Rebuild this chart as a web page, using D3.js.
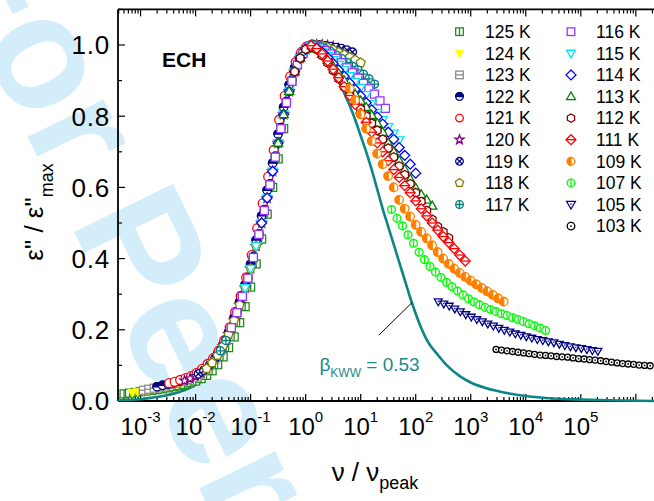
<!DOCTYPE html>
<html><head><meta charset="utf-8">
<script src="https://cdn.jsdelivr.net/npm/d3@7"></script>
<style>body{margin:0;background:#fff}svg{display:block}text{font-family:"Liberation Sans",Arial,Helvetica,sans-serif}</style>
</head><body><svg id="c" width="654" height="501"></svg>
<script>
// ---------- data (x = log10(nu/nu_peak), y = eps''/eps''max) ----------
const xTickExps = [-3,-2,-1,0,1,2,3,4,5];
const yTickVals = [0.0,0.2,0.4,0.6,0.8,1.0];
const seriesLabels = ["125 K","124 K","123 K","122 K","121 K","120 K","119 K","118 K","117 K",
                      "116 K","115 K","114 K","113 K","112 K","111 K","109 K","107 K","105 K","103 K"];
const seriesColors = ["#1e8c1e","#ffff00","#8c8c8c","#000080","#ff0000","#800080","#000080","#808000","#008080",
                      "#9933ff","#00e6f0","#0000ff","#008000","#800000","#ff0000","#ff8000","#00ff00","#000080","#000000"];
const seriesMarkers = ["sqV","triDF","sqH","cHalf","circ","star","cX","pent","cPlus",
                       "sq","triD","diam","triU","hex","diamH","cHalfL","cV","triDdot","cDot"];

const s125 = [[-3.3,0.020],[-3.2,0.022],[-3.1,0.024],[-3.0,0.026],[-2.9,0.028],[-2.8,0.030],[-2.7,0.032],[-2.6,0.034],[-2.5,0.037],[-2.4,0.040],[-2.3,0.043],[-2.2,0.047],[-2.1,0.051],[-2.0,0.056],[-1.9,0.063],[-1.8,0.072],[-1.7,0.085],[-1.6,0.102],[-1.5,0.124],[-1.4,0.150],[-1.3,0.180],[-1.2,0.220],[-1.1,0.265],[-1.0,0.320],[-0.9,0.385],[-0.8,0.455],[-0.7,0.525],[-0.6,0.600],[-0.5,0.680],[-0.4,0.765]];
const s124 = [[-3.15,0.024],[-3.05,0.026],[-2.95,0.029],[-2.85,0.031],[-2.75,0.034],[-2.65,0.037],[-2.55,0.040],[-2.45,0.044],[-2.35,0.048],[-2.25,0.052],[-2.15,0.057],[-2.05,0.063],[-1.95,0.071],[-1.85,0.081],[-1.75,0.094],[-1.65,0.112],[-1.55,0.135],[-1.45,0.163],[-1.35,0.197],[-1.25,0.237],[-1.15,0.283],[-1.05,0.335],[-0.95,0.395],[-0.85,0.460],[-0.75,0.530],[-0.65,0.605],[-0.55,0.685],[-0.45,0.765],[-0.35,0.840],[-0.25,0.900]];
const s123 = [[-2.95,0.030],[-2.85,0.033],[-2.75,0.036],[-2.65,0.039],[-2.55,0.042],[-2.45,0.046],[-2.35,0.050],[-2.25,0.055],[-2.15,0.060],[-2.05,0.067],[-1.95,0.075],[-1.85,0.085],[-1.75,0.099],[-1.65,0.117],[-1.55,0.141],[-1.45,0.170],[-1.35,0.206],[-1.25,0.248],[-1.15,0.294],[-1.05,0.345],[-0.95,0.403],[-0.85,0.468],[-0.75,0.535],[-0.65,0.607],[-0.55,0.685],[-0.45,0.765],[-0.35,0.838],[-0.25,0.898],[-0.15,0.945],[-0.05,0.976]];
const s122 = [[-2.7,0.040],[-2.6,0.044],[-2.5,0.047],[-2.4,0.051],[-2.3,0.055],[-2.2,0.060],[-2.1,0.066],[-2.0,0.073],[-1.9,0.083],[-1.8,0.096],[-1.7,0.112],[-1.6,0.132],[-1.5,0.159],[-1.4,0.193],[-1.3,0.234],[-1.2,0.278],[-1.1,0.327],[-1.0,0.384],[-0.9,0.452],[-0.8,0.520],[-0.7,0.592],[-0.6,0.668],[-0.5,0.750],[-0.4,0.825],[-0.3,0.888],[-0.2,0.936],[-0.1,0.970],[0.0,0.992],[0.1,1.000]];
const s121 = [[-2.48,0.050],[-2.38,0.054],[-2.28,0.059],[-2.18,0.064],[-2.08,0.070],[-1.98,0.079],[-1.88,0.090],[-1.78,0.104],[-1.68,0.120],[-1.58,0.141],[-1.48,0.170],[-1.38,0.207],[-1.28,0.250],[-1.18,0.295],[-1.08,0.347],[-0.98,0.410],[-0.88,0.485],[-0.78,0.555],[-0.68,0.630],[-0.58,0.705],[-0.48,0.790],[-0.38,0.857],[-0.28,0.912],[-0.18,0.952],[-0.08,0.980],[0.02,0.996],[0.12,1.002],[0.22,1.000],[0.32,0.997]];
const s120 = [[-2.2,0.057],[-2.1,0.063],[-2.0,0.070],[-1.9,0.079],[-1.8,0.091],[-1.7,0.107],[-1.6,0.128],[-1.5,0.154],[-1.4,0.187],[-1.3,0.226],[-1.2,0.270],[-1.1,0.318],[-1.0,0.372],[-0.9,0.435],[-0.8,0.500],[-0.7,0.570],[-0.6,0.645],[-0.5,0.725],[-0.4,0.805],[-0.3,0.870],[-0.2,0.925],[-0.1,0.963],[0.0,0.988],[0.1,0.998],[0.2,1.000],[0.3,1.000],[0.4,0.998],[0.5,0.995],[0.6,0.990]];
const s119 = [[-1.95,0.076],[-1.85,0.086],[-1.75,0.100],[-1.65,0.119],[-1.55,0.143],[-1.45,0.172],[-1.35,0.208],[-1.25,0.250],[-1.15,0.296],[-1.05,0.347],[-0.95,0.406],[-0.85,0.470],[-0.75,0.538],[-0.65,0.610],[-0.55,0.688],[-0.45,0.768],[-0.35,0.842],[-0.25,0.902],[-0.15,0.948],[-0.05,0.978],[0.05,0.995],[0.15,1.000],[0.25,1.000],[0.35,0.998],[0.45,0.996],[0.55,0.993],[0.65,0.990],[0.75,0.986],[0.85,0.980]];
const s118 = [[-1.8,0.091],[-1.7,0.107],[-1.6,0.128],[-1.5,0.154],[-1.4,0.187],[-1.3,0.226],[-1.2,0.270],[-1.1,0.318],[-1.0,0.372],[-0.9,0.435],[-0.8,0.500],[-0.7,0.570],[-0.6,0.645],[-0.5,0.725],[-0.4,0.805],[-0.3,0.870],[-0.2,0.925],[-0.1,0.963],[0.0,0.988],[0.1,0.998],[0.2,1.000],[0.3,0.998],[0.4,0.993],[0.5,0.987],[0.6,0.980],[0.7,0.973],[0.8,0.966],[0.9,0.958],[1.0,0.950]];
const s117 = [[-1.55,0.141],[-1.45,0.170],[-1.35,0.206],[-1.25,0.248],[-1.15,0.294],[-1.05,0.345],[-0.95,0.403],[-0.85,0.468],[-0.75,0.535],[-0.65,0.607],[-0.55,0.685],[-0.45,0.765],[-0.35,0.838],[-0.25,0.898],[-0.15,0.945],[-0.05,0.976],[0.05,0.994],[0.15,1.000],[0.25,0.997],[0.35,0.990],[0.45,0.982],[0.55,0.972],[0.65,0.962],[0.75,0.951],[0.85,0.940],[0.95,0.930],[1.05,0.918],[1.15,0.905],[1.25,0.890]];
const s116 = [[-1.35,0.206],[-1.25,0.248],[-1.15,0.294],[-1.05,0.345],[-0.95,0.403],[-0.85,0.468],[-0.75,0.535],[-0.65,0.607],[-0.55,0.685],[-0.45,0.765],[-0.35,0.838],[-0.25,0.898],[-0.15,0.945],[-0.05,0.976],[0.05,0.994],[0.15,0.998],[0.25,0.993],[0.35,0.985],[0.45,0.975],[0.55,0.963],[0.65,0.950],[0.75,0.936],[0.85,0.922],[0.95,0.907],[1.05,0.892],[1.15,0.877],[1.25,0.862],[1.35,0.843],[1.45,0.822]];
const s115 = [[-1.1,0.318],[-1.0,0.372],[-0.9,0.435],[-0.8,0.500],[-0.7,0.570],[-0.6,0.645],[-0.5,0.725],[-0.4,0.805],[-0.3,0.870],[-0.2,0.925],[-0.1,0.963],[0.0,0.988],[0.1,0.997],[0.2,0.993],[0.3,0.982],[0.4,0.970],[0.5,0.958],[0.6,0.945],[0.7,0.930],[0.8,0.913],[0.9,0.897],[1.0,0.880],[1.1,0.860],[1.2,0.835],[1.3,0.810],[1.4,0.790],[1.5,0.770],[1.6,0.752],[1.7,0.733]];
const s114 = [[-0.8,0.500],[-0.7,0.570],[-0.6,0.645],[-0.5,0.725],[-0.4,0.805],[-0.3,0.870],[-0.2,0.925],[-0.1,0.963],[0.0,0.988],[0.1,0.996],[0.2,0.992],[0.3,0.980],[0.4,0.965],[0.5,0.948],[0.6,0.930],[0.7,0.912],[0.8,0.893],[0.9,0.875],[1.0,0.857],[1.1,0.838],[1.2,0.818],[1.3,0.798],[1.4,0.778],[1.5,0.755],[1.6,0.735],[1.7,0.712],[1.8,0.690],[1.9,0.665],[2.0,0.640]];
const s113 = [[-0.5,0.725],[-0.4,0.805],[-0.3,0.870],[-0.2,0.925],[-0.1,0.963],[0.0,0.988],[0.1,0.995],[0.2,0.990],[0.3,0.975],[0.4,0.958],[0.5,0.940],[0.6,0.920],[0.7,0.900],[0.8,0.880],[0.9,0.862],[1.0,0.843],[1.1,0.825],[1.2,0.803],[1.3,0.780],[1.4,0.755],[1.5,0.725],[1.6,0.700],[1.7,0.675],[1.8,0.650],[1.9,0.623],[2.0,0.598],[2.1,0.580],[2.2,0.565],[2.3,0.548]];
const s112 = [[-0.2,0.925],[-0.1,0.963],[0.0,0.988],[0.1,0.995],[0.2,0.987],[0.3,0.970],[0.4,0.950],[0.5,0.928],[0.6,0.905],[0.7,0.882],[0.8,0.860],[0.9,0.840],[1.0,0.820],[1.1,0.800],[1.2,0.780],[1.3,0.760],[1.4,0.735],[1.5,0.710],[1.6,0.685],[1.7,0.660],[1.8,0.635],[1.9,0.610],[2.0,0.585],[2.1,0.560],[2.2,0.535],[2.3,0.510],[2.4,0.490],[2.5,0.475],[2.6,0.458]];
const s111 = [[0.1,0.998],[0.2,0.990],[0.3,0.975],[0.4,0.955],[0.5,0.932],[0.6,0.908],[0.7,0.883],[0.8,0.858],[0.9,0.833],[1.0,0.808],[1.1,0.783],[1.2,0.755],[1.3,0.725],[1.4,0.700],[1.5,0.675],[1.6,0.650],[1.7,0.628],[1.8,0.605],[1.9,0.585],[2.0,0.562],[2.1,0.540],[2.2,0.520],[2.3,0.500],[2.4,0.480],[2.5,0.462],[2.6,0.445],[2.7,0.428],[2.8,0.410],[2.9,0.393]];
const s109 = [[0.8,0.878],[0.9,0.845],[1.0,0.805],[1.1,0.765],[1.2,0.730],[1.3,0.695],[1.4,0.665],[1.5,0.632],[1.6,0.600],[1.7,0.565],[1.8,0.540],[1.9,0.518],[2.0,0.495],[2.1,0.475],[2.2,0.457],[2.3,0.437],[2.4,0.418],[2.5,0.400],[2.6,0.385],[2.7,0.372],[2.8,0.360],[2.9,0.349],[3.0,0.338],[3.1,0.328],[3.2,0.318],[3.3,0.308],[3.4,0.298],[3.5,0.288],[3.6,0.279]];
const s107 = [[1.56,0.538],[1.66,0.513],[1.76,0.492],[1.86,0.467],[1.96,0.443],[2.06,0.418],[2.16,0.397],[2.26,0.378],[2.36,0.362],[2.46,0.347],[2.56,0.333],[2.66,0.321],[2.76,0.309],[2.86,0.298],[2.96,0.287],[3.06,0.278],[3.16,0.270],[3.26,0.263],[3.36,0.257],[3.46,0.251],[3.56,0.245],[3.66,0.240],[3.76,0.234],[3.86,0.229],[3.96,0.223],[4.06,0.217],[4.16,0.211],[4.26,0.205],[4.36,0.198]];
const s105 = [[2.41,0.279],[2.51,0.273],[2.61,0.267],[2.71,0.259],[2.81,0.251],[2.91,0.243],[3.01,0.236],[3.11,0.229],[3.21,0.223],[3.31,0.217],[3.41,0.211],[3.51,0.205],[3.61,0.199],[3.71,0.194],[3.81,0.189],[3.91,0.185],[4.01,0.181],[4.11,0.177],[4.21,0.173],[4.31,0.170],[4.41,0.167],[4.51,0.164],[4.61,0.160],[4.71,0.156],[4.81,0.153],[4.91,0.150],[5.01,0.148],[5.11,0.145],[5.21,0.142],[5.31,0.140]];
const s103 = [[3.46,0.145],[3.56,0.143],[3.66,0.141],[3.76,0.139],[3.86,0.137],[3.96,0.135],[4.06,0.133],[4.16,0.131],[4.26,0.129],[4.36,0.128],[4.46,0.127],[4.56,0.125],[4.66,0.124],[4.76,0.123],[4.86,0.121],[4.96,0.119],[5.06,0.118],[5.16,0.116],[5.26,0.115],[5.36,0.113],[5.46,0.111],[5.56,0.109],[5.66,0.107],[5.76,0.105],[5.86,0.104],[5.96,0.103],[6.06,0.101],[6.16,0.100],[6.26,0.099]];
const seriesData = [s125,s124,s123,s122,s121,s120,s119,s118,s117,s116,s115,s114,s113,s112,s111,s109,s107,s105,s103];

// KWW fit curve (beta = 0.53)
const kwwCurve = [[-3.41,0.002],[-3.0,0.005],[-2.77,0.010],[-2.5,0.017],[-2.2,0.030],[-2.0,0.045],[-1.8,0.066],[-1.65,0.095],[-1.5,0.135],[-1.4,0.165],[-1.3,0.210],[-1.2,0.260],[-1.1,0.312],[-1.0,0.370],[-0.9,0.428],[-0.8,0.490],[-0.7,0.560],[-0.6,0.635],[-0.5,0.710],[-0.4,0.790],[-0.3,0.865],[-0.2,0.925],[-0.1,0.970],[0.0,0.993],[0.1,1.000],[0.2,0.998],[0.3,0.988],[0.4,0.965],[0.5,0.935],[0.6,0.900],[0.7,0.865],[0.8,0.830],[0.9,0.790],[1.0,0.745],[1.1,0.700],[1.2,0.650],[1.3,0.595],[1.4,0.540],[1.5,0.490],[1.6,0.440],[1.7,0.390],[1.8,0.340],[1.9,0.290],[2.0,0.245],[2.1,0.205],[2.2,0.172],[2.4,0.130],[2.6,0.095],[2.8,0.070],[3.0,0.052],[3.3,0.035],[3.6,0.024],[4.0,0.014],[4.5,0.007],[5.0,0.004],[5.5,0.002],[6.4,0.000]];
const kwwLabelPos = [0.25, 0.085];
const kwwPointer = [[1.33,0.185],[1.93,0.276]];

// ---------- layout ----------
const svg = d3.select("#c");
const x = d3.scaleLog().domain([Math.pow(10,-3.41), Math.pow(10,6.33)]).range([118, 654]);
const y = d3.scaleLinear().domain([0, 1.1]).range([401, 9.4]);
const X = v => x(Math.pow(10, v));

// watermark
svg.append("text").attr("transform","translate(-63,-49) rotate(64)")
  .attr("font-size",160).attr("font-weight","bold").attr("fill","#d4edfa")
  .text("For Peer Review");

// axes frame
const frame = svg.append("g").attr("stroke","#000").attr("fill","none");
frame.append("line").attr("x1",118).attr("x2",118).attr("y1",y(1.1)).attr("y2",y(0)).attr("stroke-width",1.8);
frame.append("line").attr("x1",118).attr("x2",654).attr("y1",y(0)).attr("y2",y(0)).attr("stroke-width",1.8);
frame.append("line").attr("x1",118).attr("x2",654).attr("y1",y(1.1)).attr("y2",y(1.1)).attr("stroke-width",1.8);

// x ticks
const majors = d3.range(-3,7).map(e => Math.pow(10,e));
const minors = [];
for (let e=-4; e<7; e++) for (let k=2;k<10;k++){ const v=k*Math.pow(10,e); if (v>=x.domain()[0] && v<=x.domain()[1]) minors.push(v); }
const tickG = svg.append("g").attr("stroke","#000").attr("stroke-width",1.2);
[[y(0),-1],[y(1.1),1]].forEach(([yy,dir])=>{
  majors.filter(v=>v<=x.domain()[1]).forEach(v=>tickG.append("line").attr("x1",x(v)).attr("x2",x(v)).attr("y1",yy).attr("y2",yy+dir*7));
  minors.forEach(v=>tickG.append("line").attr("x1",x(v)).attr("x2",x(v)).attr("y1",yy).attr("y2",yy+dir*4));
});
// y ticks
d3.range(0,1.101,0.1).forEach((v,i)=>{
  tickG.append("line").attr("x1",118).attr("x2",118+(i%2===0?7:4)).attr("y1",y(v)).attr("y2",y(v));
});

// x labels
xTickExps.forEach(e=>{
  const t = svg.append("text").attr("x",X(e)).attr("y",435).attr("text-anchor","middle").attr("font-size",24).attr("fill","#000");
  t.append("tspan").text("10");
  t.append("tspan").attr("font-size",15).attr("dy",-13).text(String(e));
});
// y labels
yTickVals.forEach(v=>{
  svg.append("text").attr("x",110).attr("y",y(v)+9.3).attr("text-anchor","end").attr("font-size",26).attr("letter-spacing",0.8).attr("fill","#000").text(v.toFixed(1));
});

// axis titles
const xt = svg.append("text").attr("x",375).attr("y",481).attr("text-anchor","middle").attr("font-size",26).attr("fill","#000");
xt.append("tspan").text("ν / ν");
xt.append("tspan").attr("font-size",18).attr("dy",8).text("peak");
const yt = svg.append("text").attr("transform","translate(43,212) rotate(-90)").attr("text-anchor","middle").attr("font-size",26).attr("fill","#000");
yt.append("tspan").text("ε\" / ε\"");
yt.append("tspan").attr("font-size",18).attr("dy",10).text("max");

svg.append("text").attr("x",162).attr("y",67).attr("font-size",21).attr("font-weight","bold").attr("fill","#000").text("ECH");

// markers
function marker(g, type, color, s){
  const w = "#fff", sw = 1.3;
  const add = (tag)=>g.append(tag).attr("stroke",color).attr("stroke-width",sw).attr("fill",w);
  const r = s;
  switch(type){
    case "sqV": add("rect").attr("x",-s).attr("y",-s).attr("width",2*s).attr("height",2*s); g.append("line").attr("x1",0).attr("x2",0).attr("y1",-s).attr("y2",s).attr("stroke",color).attr("stroke-width",sw); break;
    case "sqH": add("rect").attr("x",-s).attr("y",-s).attr("width",2*s).attr("height",2*s); g.append("line").attr("x1",-s).attr("x2",s).attr("y1",0).attr("y2",0).attr("stroke",color).attr("stroke-width",sw); break;
    case "sq": add("rect").attr("x",-s).attr("y",-s).attr("width",2*s).attr("height",2*s); break;
    case "triDF": g.append("path").attr("d",`M${-s*1.15},${-s*0.8}L${s*1.15},${-s*0.8}L0,${s*1.2}Z`).attr("fill",color).attr("stroke",color).attr("stroke-width",0.8); break;
    case "triD": add("path").attr("d",`M${-s*1.15},${-s*0.8}L${s*1.15},${-s*0.8}L0,${s*1.2}Z`); break;
    case "triDdot": add("path").attr("d",`M${-s*1.15},${-s*0.8}L${s*1.15},${-s*0.8}L0,${s*1.2}Z`); g.append("circle").attr("r",0.8).attr("cy",-0.1*s).attr("fill",color); break;
    case "triU": add("path").attr("d",`M${-s*1.15},${s*0.8}L${s*1.15},${s*0.8}L0,${-s*1.2}Z`); break;
    case "circ": add("circle").attr("r",r); break;
    case "cDot": add("circle").attr("r",r); g.append("circle").attr("r",0.9).attr("fill",color); break;
    case "cX": add("circle").attr("r",r); g.append("path").attr("d",`M${-r*0.7},${-r*0.7}L${r*0.7},${r*0.7}M${-r*0.7},${r*0.7}L${r*0.7},${-r*0.7}`).attr("stroke",color).attr("stroke-width",sw); break;
    case "cPlus": add("circle").attr("r",r); g.append("path").attr("d",`M${-r},0H${r}M0,${-r}V${r}`).attr("stroke",color).attr("stroke-width",sw); break;
    case "cV": add("circle").attr("r",r); g.append("path").attr("d",`M0,${-r}V${r}`).attr("stroke",color).attr("stroke-width",sw); break;
    case "cHalf": add("circle").attr("r",r); g.append("path").attr("d",`M${-r},0A${r},${r} 0 0 1 ${r},0Z`).attr("fill",color).attr("stroke",color).attr("stroke-width",sw); break;
    case "cHalfL": add("circle").attr("r",r); g.append("path").attr("d",`M0,${r}A${r},${r} 0 0 1 0,${-r}Z`).attr("fill",color).attr("stroke",color).attr("stroke-width",sw); break;
    case "diam": add("path").attr("d",`M0,${-s*1.3}L${s*1.3},0L0,${s*1.3}L${-s*1.3},0Z`); break;
    case "diamH": add("path").attr("d",`M0,${-s*1.3}L${s*1.3},0L0,${s*1.3}L${-s*1.3},0Z`); g.append("line").attr("x1",-s*1.3).attr("x2",s*1.3).attr("stroke",color).attr("stroke-width",sw); break;
    case "hex": { const pts=d3.range(6).map(i=>{const a=Math.PI/6+i*Math.PI/3;return [s*1.1*Math.cos(a),s*1.1*Math.sin(a)];}); add("path").attr("d","M"+pts.join("L")+"Z"); break; }
    case "pent": { const pts=d3.range(5).map(i=>{const a=-Math.PI/2+i*2*Math.PI/5;return [s*1.15*Math.cos(a),s*1.15*Math.sin(a)];}); add("path").attr("d","M"+pts.join("L")+"Z"); break; }
    case "star": { const pts=d3.range(10).map(i=>{const a=-Math.PI/2+i*Math.PI/5;const rr=i%2?s*0.5:s*1.25;return [rr*Math.cos(a),rr*Math.sin(a)];}); add("path").attr("d","M"+pts.join("L")+"Z"); break; }
  }
}
const markerSize = [4,4,4,4.2,4.5,4,4.1,4.1,4.1,4,4,3.8,4,4,3.8,4.2,3.9,3.4,3.0];

// KWW line
svg.append("path").datum(kwwCurve)
  .attr("d", d3.line().x(d=>X(d[0])).y(d=>y(d[1])).curve(d3.curveMonotoneX))
  .attr("fill","none").attr("stroke","#0b8585").attr("stroke-width",2.6);

// data series
const dataG = svg.append("g");
seriesData.forEach((arr,i)=>{
  arr.forEach(d=>{
    const g = dataG.append("g").attr("transform",`translate(${X(d[0])},${y(d[1])})`);
    marker(g, seriesMarkers[i], seriesColors[i], markerSize[i]);
  });
});

// annotation
svg.append("line").attr("x1",X(kwwPointer[0][0])).attr("y1",y(kwwPointer[0][1])).attr("x2",X(kwwPointer[1][0])).attr("y2",y(kwwPointer[1][1])).attr("stroke","#000").attr("stroke-width",1);
const at = svg.append("text").attr("x",X(kwwLabelPos[0])).attr("y",y(kwwLabelPos[1])).attr("font-size",19).attr("fill","#1a8a8a");
at.append("tspan").text("β");
at.append("tspan").attr("font-size",12).attr("dy",6).text("KWW");
at.append("tspan").attr("dy",-6).text(" = 0.53");

// legend
seriesLabels.forEach((lab,i)=>{
  const col = i<9?0:1, row = i<9?i:i-9;
  const sx = col===0?459.5:571, tx = col===0?485:596, cy = 31.7+row*21.6;
  const g = svg.append("g").attr("transform",`translate(${sx},${cy})`);
  marker(g, seriesMarkers[i], seriesColors[i], 3.8);
  svg.append("text").attr("x",tx).attr("y",cy+6.3).attr("font-size",17.5).attr("fill","#000").text(lab);
});
</script></body></html>
